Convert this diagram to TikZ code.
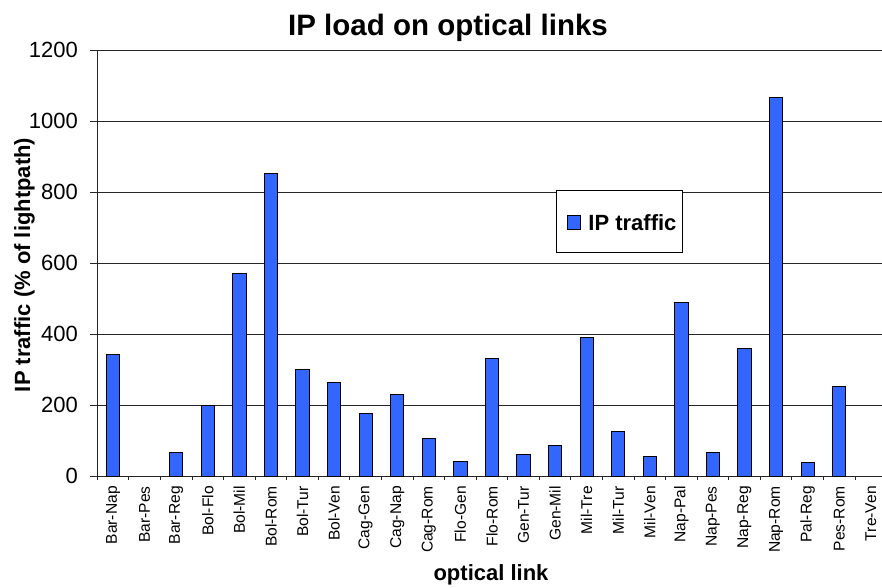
\documentclass[tikz,border=0pt]{standalone}
\usepackage{fontspec}
\setmainfont{Liberation Sans}
\usetikzlibrary{positioning,calc}

\definecolor{barblue}{HTML}{3366FF}

\tikzset{
	bar/.style={draw=black,fill=barblue,line width=0.9pt},
	gridline/.style={black!85,line width=0.9pt},
	ticklabel/.style={font=\fontsize{22}{26}\selectfont,inner sep=0pt},
	linklabel/.style={font=\fontsize{15.6}{18}\selectfont,inner sep=0pt,rotate=90,anchor=east},
	axislabel/.style={font=\fontsize{22}{26}\selectfont\bfseries,inner sep=0pt}
}

\begin{document}
\begin{tikzpicture}[x=1pt,y=1pt]

\useasboundingbox (0,0) rectangle (882,588);

\def\xo{97.3}
\def\yo{112}
\def\cw{31.57}
\def\ys{0.355}

%%%%%%%%%%%%%%%%%%%%%%%%%%%%%%%%%%%%%%%%%%%%%%%%%%%%%%%%%%%%%%%%

\foreach \v in {0,200,...,1200} {
	\draw [gridline] (90,\yo+\v*\ys) -- (882,\yo+\v*\ys);
	\node [ticklabel,anchor=east] at (78,\yo+\v*\ys) (y\v) {\v};
}

\draw [gridline] (\xo,\yo) -- (\xo,\yo+1200*\ys);

\foreach \name/\val [count=\i from 0] in {Bar-Nap/341,Bar-Pes/0,Bar-Reg/66,Bol-Flo/200,Bol-Mil/571,Bol-Rom/851,Bol-Tur/301,Bol-Ven/264,Cag-Gen/175,Cag-Nap/231,Cag-Rom/105,Flo-Gen/41,Flo-Rom/330,Gen-Tur/61,Gen-Mil/85,Mil-Tre/390,Mil-Tur/126,Mil-Ven/56,Nap-Pal/490,Nap-Pes/66,Nap-Reg/360,Nap-Rom/1065,Pal-Reg/37,Pes-Rom/252,Tre-Ven/0} {
	\pgfmathsetmacro{\xc}{\xo+\cw*(\i+0.5)}
	\coordinate (c\i) at (\xc,\yo);
	\ifnum\val>0
		\draw [bar] ($(c\i)+(-6.65,0)$) rectangle ($(c\i)+(6.65,\val*\ys)$);
	\fi
	\draw [gridline] (\xo+\cw*\i,\yo) -- ++(0,-4);
	\node [linklabel] at (\xc,102) (l\i) {\name};
}

%%%%%%%%%%%%%%%%%%%%%%%%%%%%%%%%%%%%%%%%%%%%%%%%%%%%%%%%%%%%%%%%

\node [draw=black,fill=white,line width=0.8pt,minimum width=126.7pt,minimum height=62.7pt,inner sep=0pt] at (619.35,366.65) (legend) {};
\node [bar,minimum size=13.3pt,inner sep=0pt] at (573.85,365.65) (key) {};
\node [axislabel,right=7.3pt of key] (keytext) {IP traffic};

\node [font=\fontsize{29.5}{34}\selectfont\bfseries,inner sep=0pt,anchor=base] at (448,552) (title) {IP load on optical links};
\node [axislabel,anchor=base] at (491,8) (xlabel) {optical link};
\node [axislabel,rotate=90,anchor=base] at (30,323) (ylabel) {IP traffic (\% of lightpath)};

\end{tikzpicture}
\end{document}
